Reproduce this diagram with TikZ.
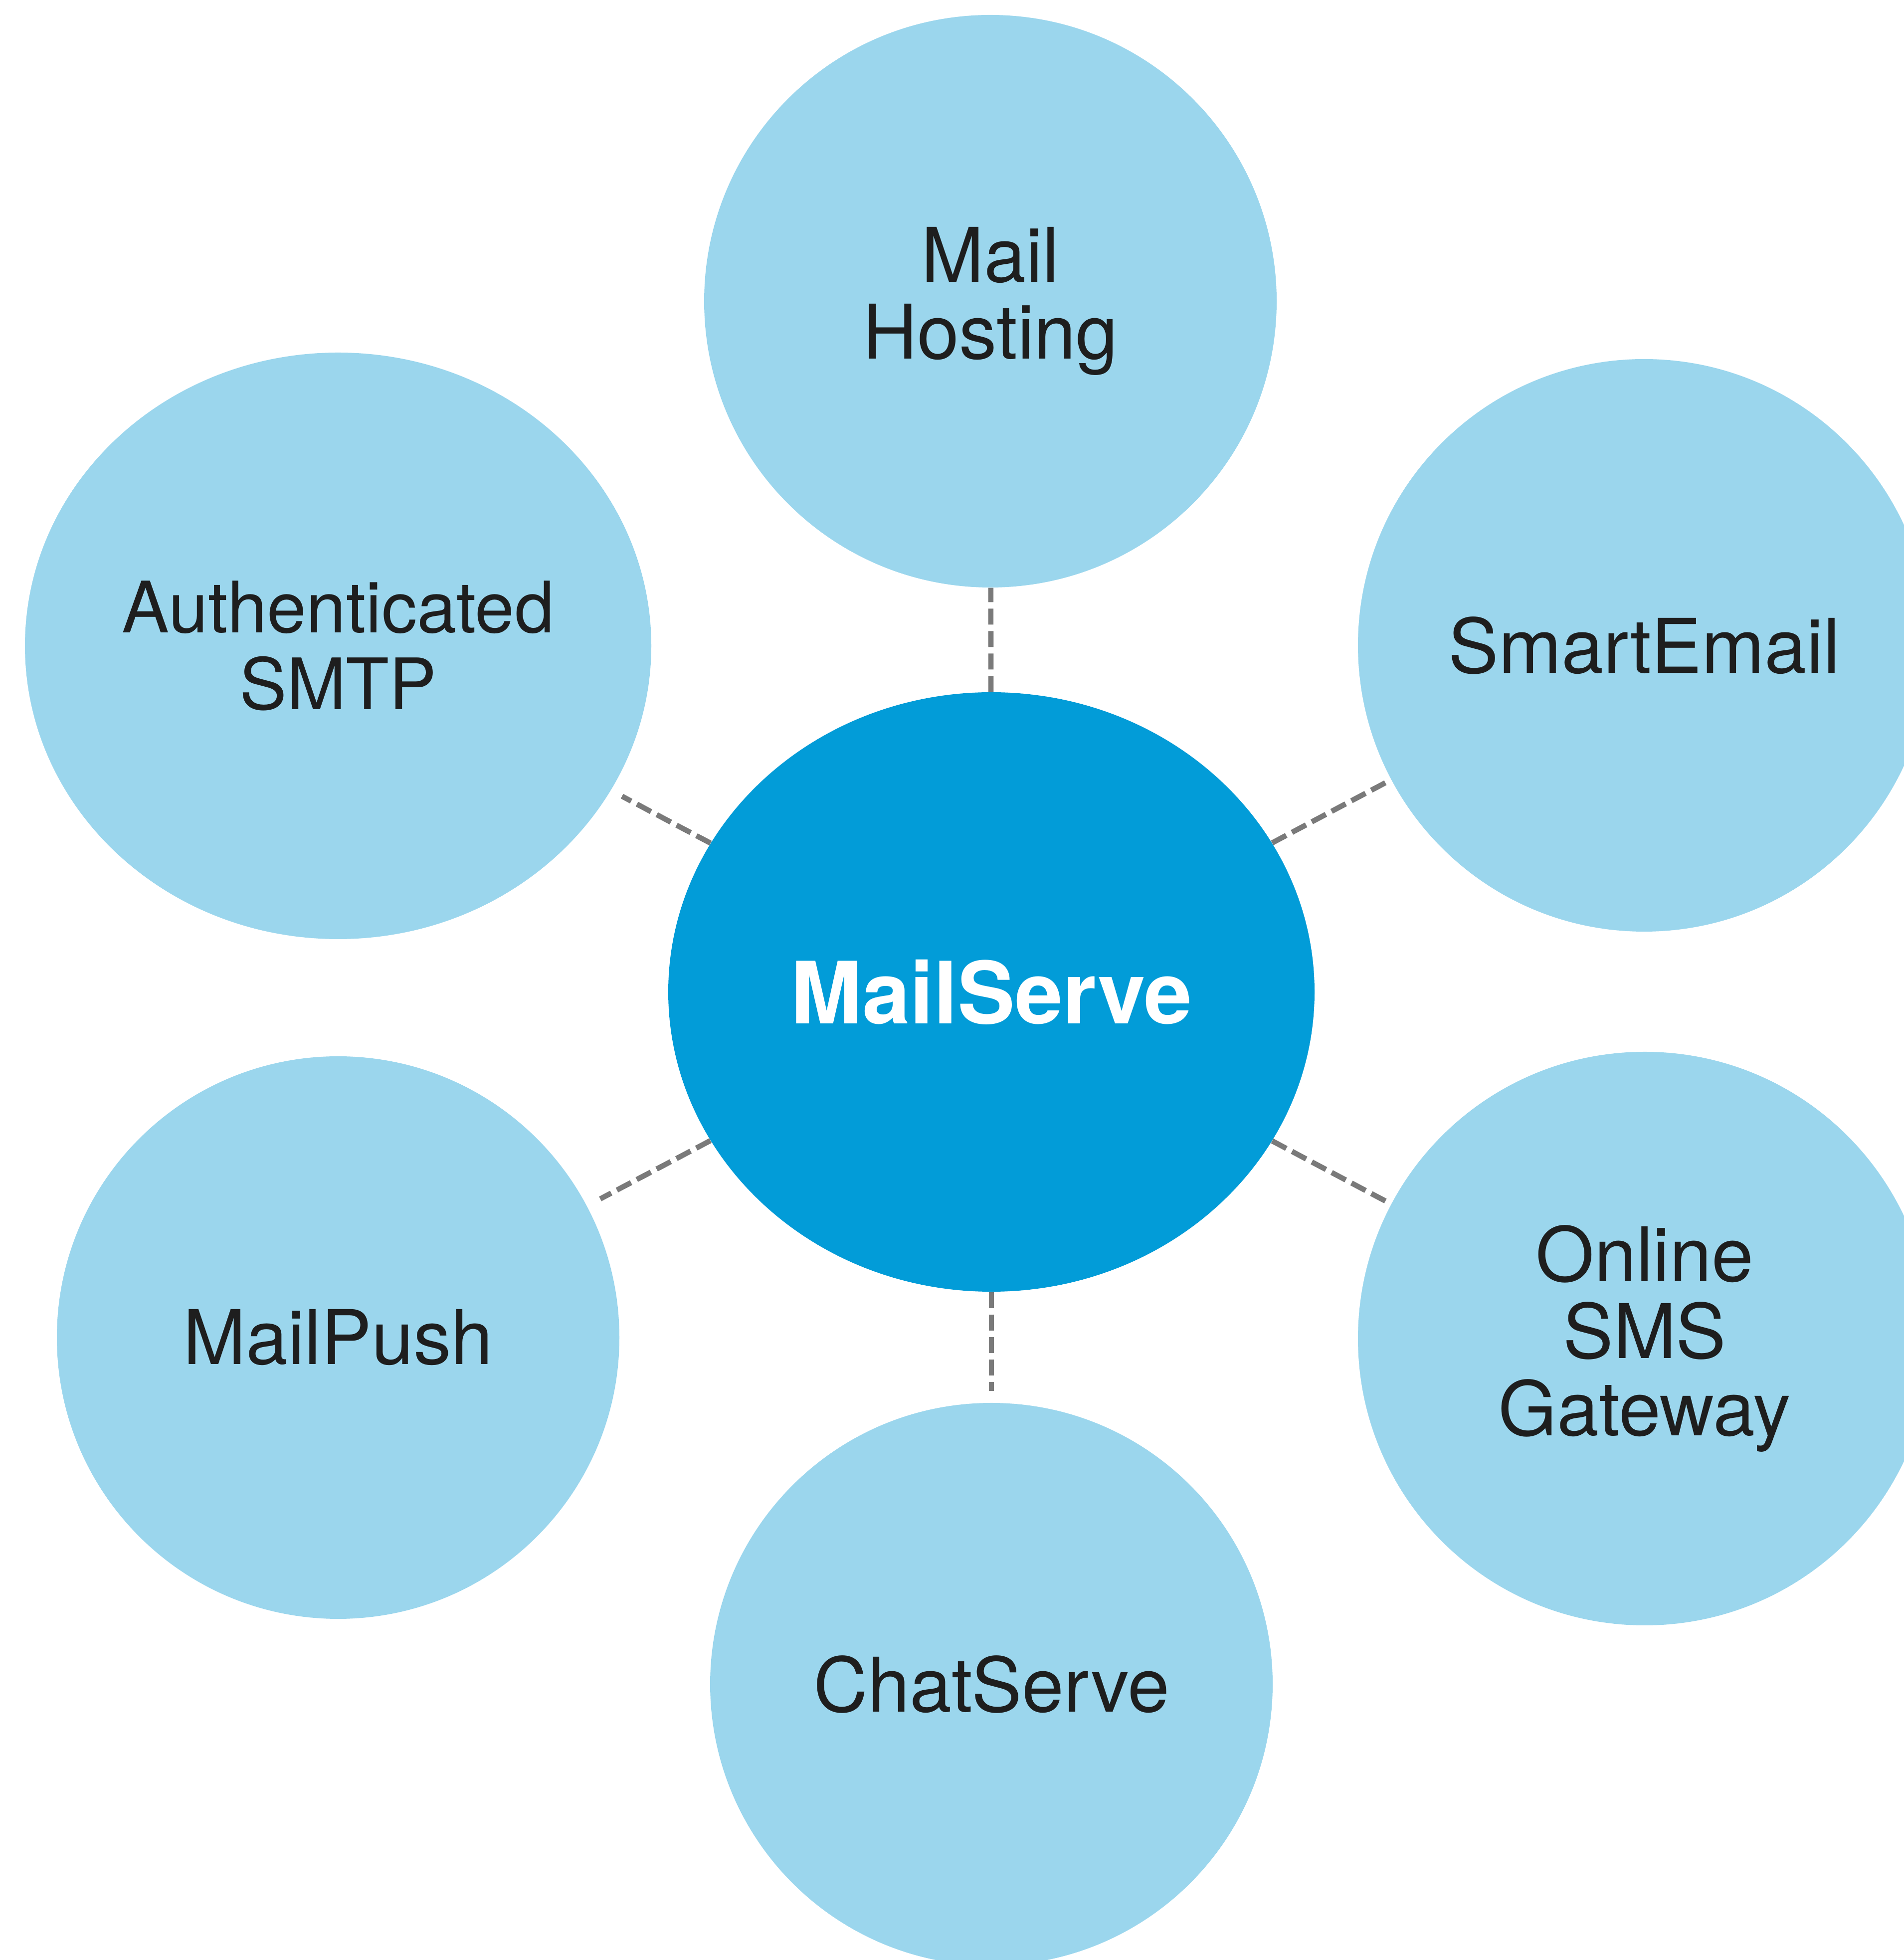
\documentclass[tikz,border=0pt]{standalone}
\usepackage{fontspec}
\setmainfont{TeX Gyre Heros}
\usepackage{tikz}
\usetikzlibrary{shapes.geometric}
\definecolor{lightblue}{RGB}{155,214,237}
\definecolor{darkblue}{RGB}{2,156,216}
\definecolor{textgray}{RGB}{30,30,30}
\definecolor{linkgray}{RGB}{122,122,122}
\tikzset{my circle/.style={
  circle,
  fill=lightblue,
  text=textgray,
  align=center,
  inner sep=0pt,
  font=\fontsize{43}{44}\selectfont
  }
}
\tikzset{my link/.style={
  linkgray,
  line width=3pt,
  dash pattern=on 0.32cm off 0.13cm
  }
}

\begin{document}
\begin{tikzpicture}
    \clip (0,0) rectangle (38.18,39.30);
    \fill[white] (0,0) rectangle (38.18,39.30);

    \node[my circle,ellipse,minimum width=12.96cm,minimum height=12.02cm,fill=darkblue,text=white,font=\fontsize{49}{50}\selectfont\bfseries] (MS) at (19.88,19.41) {MailServe};

    \node[my circle,minimum size=11.48cm] (MH) at (19.86,33.26) {Mail\\Hosting};
    \node[my circle,minimum size=11.48cm] (SE) at (32.97,26.36) {SmartEmail};
    \node[my circle,ellipse,minimum width=12.56cm,minimum height=11.76cm,font=\fontsize{40.5}{44}\selectfont] (AS) at (6.78,26.35) {Authenticated\\SMTP};
    \node[my circle,minimum size=11.28cm] (MP) at (6.78,12.48) {MailPush};
    \node[my circle,minimum size=11.50cm] (OS) at (32.98,12.46) {Online\\SMS\\Gateway};
    \node[my circle,minimum size=11.28cm] (CS) at (19.88,5.53) {ChatServe};

    \foreach \t/\g in {MH/0cm,SE/0.08cm,AS/0.25cm,MP/0.3cm,OS/0.06cm,CS/0.23cm}
        \draw[my link,shorten >=\g] (MS) -- (\t);
\end{tikzpicture}
\end{document}
